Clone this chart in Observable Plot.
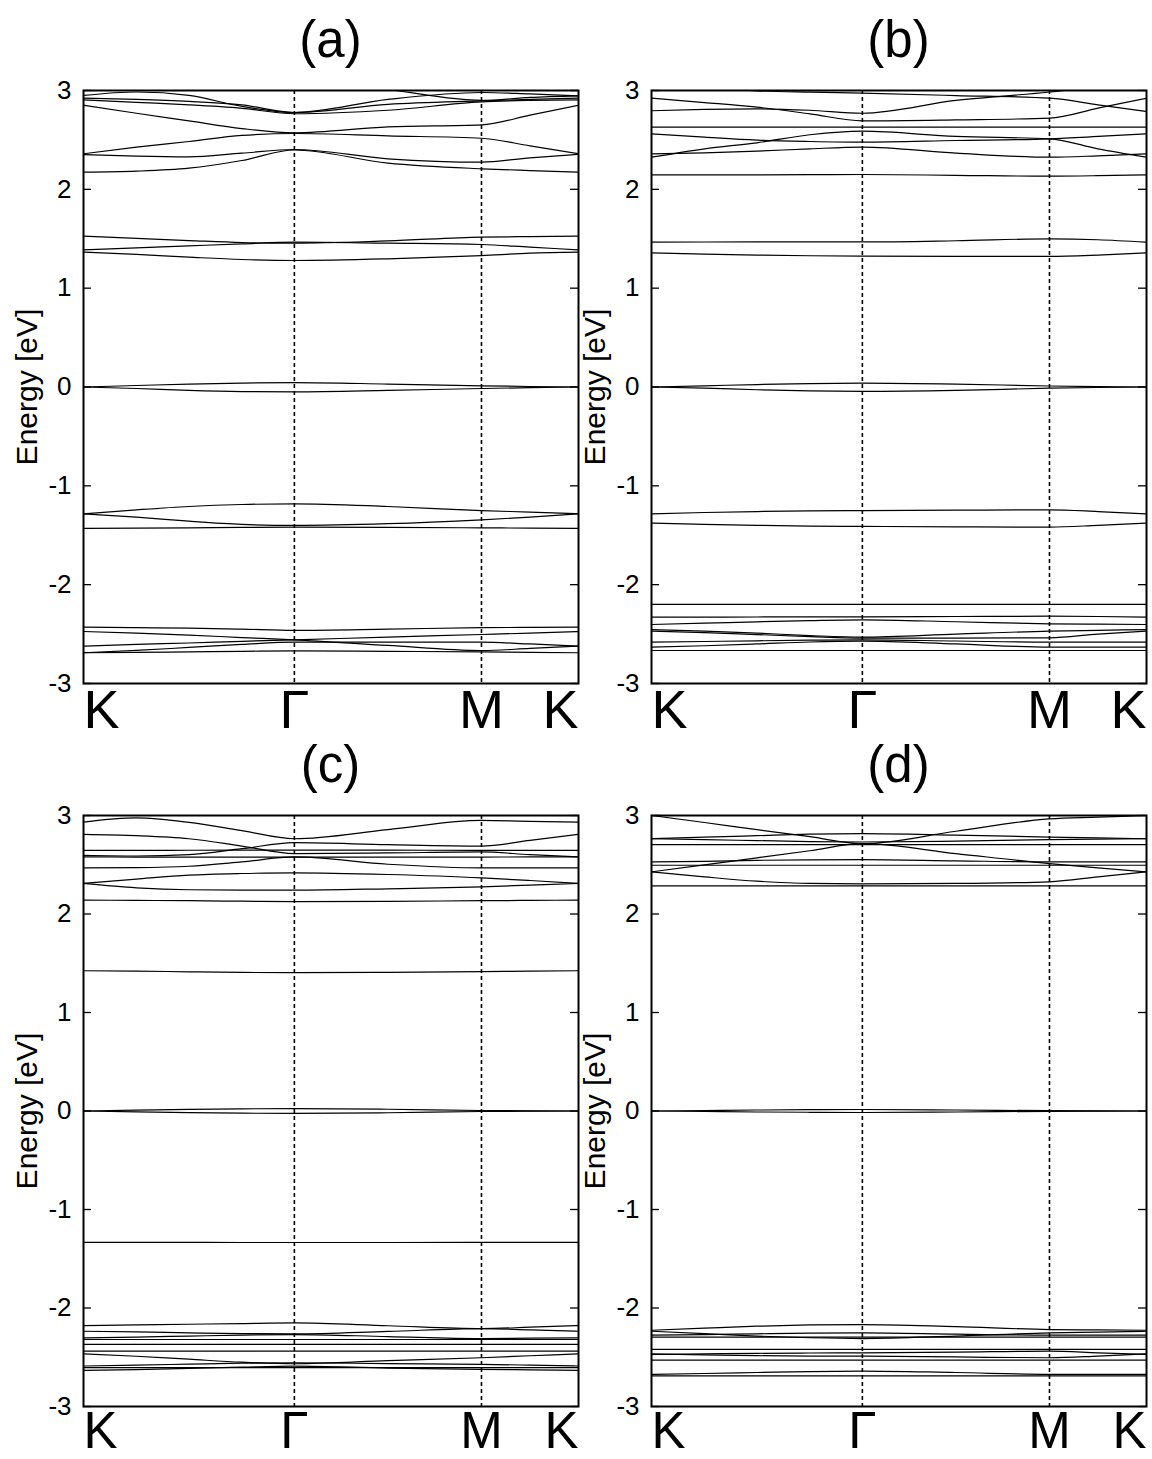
<!DOCTYPE html>
<html><head><meta charset="utf-8">
<script src="https://cdn.jsdelivr.net/npm/d3@7"></script>
<script src="https://cdn.jsdelivr.net/npm/@observablehq/plot@0.6"></script>
<style>
html,body{margin:0;padding:0;background:#fff;}
body{width:1152px;height:1459px;position:relative;overflow:hidden;font-family:"Liberation Sans",Arial,Helvetica,sans-serif;}
.panel{position:absolute;}
.title{position:absolute;font-size:51px;line-height:51px;text-align:center;color:#000;}
</style></head><body>
<script>
// k-path sample positions (fraction of path K-Γ-M-K)
const kGrid = [0, 0.107, 0.213, 0.32, 0.426, 0.615, 0.804, 0.902, 1];
const kNodes = [0, 0.426, 0.804, 1];
const kLabels = ["K", "Γ", "M", "K"];
const yTicks = [-3, -2, -1, 0, 1, 2, 3];
const panelTitles = ["(a)", "(b)", "(c)", "(d)"];

// band energies (eV) at kGrid
const bandsA = [
  [2.95, 2.985, 2.95, 2.84, 2.777, 2.91, 2.98, 2.965, 2.946],
  [2.922, 2.91, 2.89, 2.855, 2.777, 2.86, 2.895, 2.91, 2.922],
  [2.906, 2.88, 2.855, 2.82, 2.765, 2.80, 2.885, 2.90, 2.906],
  [3.3, 3.3, 3.3, 3.2, 3.12, 3.01, 2.90, 2.93, 2.946],
  [2.85, 2.77, 2.693, 2.615, 2.572, 2.632, 2.652, 2.75, 2.85],
  [2.36, 2.427, 2.484, 2.545, 2.565, 2.541, 2.517, 2.44, 2.36],
  [2.352, 2.335, 2.328, 2.366, 2.403, 2.309, 2.275, 2.319, 2.355],
  [2.174, 2.184, 2.214, 2.292, 2.398, 2.265, 2.208, 2.19, 2.174],
  [1.526, 1.503, 1.482, 1.462, 1.455, 1.479, 1.516, 1.522, 1.526],
  [1.388, 1.408, 1.428, 1.448, 1.465, 1.455, 1.442, 1.415, 1.388],
  [1.364, 1.341, 1.314, 1.29, 1.28, 1.297, 1.33, 1.354, 1.364],
  [0, 0.015, 0.03, 0.04, 0.045, 0.03, 0.012, 0.005, 0],
  [0, -0.015, -0.035, -0.047, -0.05, -0.035, -0.015, -0.007, 0],
  [-1.283, -1.243, -1.209, -1.189, -1.182, -1.209, -1.25, -1.266, -1.283],
  [-1.283, -1.317, -1.358, -1.39, -1.40, -1.383, -1.344, -1.317, -1.283],
  [-1.43, -1.428, -1.425, -1.42, -1.418, -1.42, -1.425, -1.428, -1.43],
  [-2.43, -2.435, -2.44, -2.45, -2.462, -2.45, -2.435, -2.432, -2.43],
  [-2.474, -2.49, -2.51, -2.535, -2.558, -2.615, -2.666, -2.645, -2.622],
  [-2.622, -2.605, -2.59, -2.573, -2.558, -2.53, -2.504, -2.49, -2.474],
  [-2.689, -2.665, -2.635, -2.605, -2.582, -2.582, -2.582, -2.60, -2.622],
  [-2.689, -2.685, -2.68, -2.675, -2.67, -2.675, -2.68, -2.685, -2.689]
];
const bandsB = [
  [3.06, 3.03, 2.997, 2.983, 2.973, 2.949, 2.922, 2.855, 2.787],
  [2.922, 2.878, 2.831, 2.764, 2.693, 2.703, 2.72, 2.821, 2.922],
  [2.795, 2.81, 2.815, 2.80, 2.77, 2.90, 2.985, 3.04, 3.08],
  [2.629, 2.629, 2.629, 2.629, 2.629, 2.629, 2.629, 2.629, 2.629],
  [2.562, 2.528, 2.498, 2.484, 2.477, 2.494, 2.511, 2.535, 2.562],
  [2.325, 2.41, 2.471, 2.552, 2.588, 2.535, 2.511, 2.41, 2.325],
  [2.359, 2.369, 2.386, 2.41, 2.427, 2.366, 2.325, 2.339, 2.359],
  [2.147, 2.147, 2.147, 2.148, 2.15, 2.142, 2.133, 2.138, 2.147],
  [1.465, 1.467, 1.468, 1.468, 1.468, 1.48, 1.499, 1.49, 1.465],
  [1.357, 1.345, 1.335, 1.328, 1.324, 1.322, 1.322, 1.335, 1.357],
  [0, 0.012, 0.025, 0.035, 0.04, 0.03, 0.01, 0.004, 0],
  [0, -0.012, -0.028, -0.04, -0.045, -0.035, -0.012, -0.005, 0],
  [-1.283, -1.27, -1.26, -1.253, -1.25, -1.246, -1.243, -1.26, -1.283],
  [-1.378, -1.39, -1.40, -1.407, -1.41, -1.415, -1.418, -1.40, -1.378],
  [-2.20, -2.20, -2.20, -2.20, -2.20, -2.20, -2.20, -2.20, -2.20],
  [-2.329, -2.328, -2.327, -2.325, -2.325, -2.322, -2.319, -2.322, -2.329],
  [-2.403, -2.39, -2.376, -2.364, -2.356, -2.375, -2.396, -2.40, -2.403],
  [-2.454, -2.47, -2.49, -2.515, -2.531, -2.50, -2.47, -2.462, -2.454],
  [-2.47, -2.485, -2.505, -2.525, -2.54, -2.54, -2.538, -2.50, -2.47],
  [-2.582, -2.575, -2.568, -2.562, -2.558, -2.57, -2.582, -2.582, -2.582],
  [-2.632, -2.618, -2.60, -2.58, -2.572, -2.60, -2.632, -2.632, -2.632],
  [-2.666, -2.666, -2.666, -2.666, -2.666, -2.666, -2.666, -2.666, -2.666]
];
const bandsC = [
  [2.933, 2.975, 2.93, 2.846, 2.764, 2.857, 2.95, 2.94, 2.933],
  [2.808, 2.795, 2.764, 2.69, 2.613, 2.62, 2.63, 2.603, 2.579],
  [2.596, 2.589, 2.603, 2.663, 2.724, 2.704, 2.69, 2.747, 2.808],
  [2.646, 2.646, 2.647, 2.648, 2.649, 2.648, 2.646, 2.646, 2.646],
  [2.579, 2.578, 2.577, 2.577, 2.577, 2.577, 2.578, 2.579, 2.579],
  [2.468, 2.471, 2.485, 2.529, 2.579, 2.505, 2.468, 2.468, 2.468],
  [2.31, 2.354, 2.394, 2.411, 2.418, 2.401, 2.367, 2.34, 2.31],
  [2.31, 2.266, 2.246, 2.242, 2.242, 2.256, 2.276, 2.293, 2.31],
  [2.141, 2.138, 2.135, 2.13, 2.125, 2.128, 2.135, 2.138, 2.141],
  [1.424, 1.42, 1.413, 1.407, 1.404, 1.408, 1.415, 1.42, 1.424],
  [0, 0.008, 0.016, 0.022, 0.025, 0.018, 0.005, 0.002, 0],
  [0, -0.008, -0.016, -0.022, -0.025, -0.018, -0.005, -0.002, 0],
  [-1.333, -1.333, -1.334, -1.335, -1.335, -1.335, -1.334, -1.333, -1.333],
  [-2.179, -2.172, -2.165, -2.158, -2.152, -2.18, -2.209, -2.195, -2.179],
  [-2.236, -2.243, -2.252, -2.26, -2.263, -2.238, -2.209, -2.222, -2.236],
  [-2.303, -2.295, -2.285, -2.275, -2.27, -2.29, -2.31, -2.306, -2.303],
  [-2.32, -2.32, -2.32, -2.32, -2.32, -2.32, -2.32, -2.32, -2.32],
  [-2.37, -2.37, -2.37, -2.37, -2.37, -2.37, -2.37, -2.37, -2.37],
  [-2.438, -2.438, -2.438, -2.438, -2.438, -2.438, -2.438, -2.438, -2.438],
  [-2.465, -2.49, -2.52, -2.55, -2.566, -2.535, -2.505, -2.485, -2.465],
  [-2.589, -2.58, -2.57, -2.56, -2.556, -2.565, -2.572, -2.58, -2.589],
  [-2.606, -2.606, -2.606, -2.606, -2.606, -2.606, -2.606, -2.606, -2.606],
  [-2.633, -2.625, -2.612, -2.60, -2.59, -2.61, -2.623, -2.628, -2.633]
];
const bandsD = [
  [3.0, 2.929, 2.856, 2.785, 2.714, 2.84, 2.966, 2.983, 3.0],
  [2.428, 2.499, 2.57, 2.642, 2.714, 2.613, 2.512, 2.468, 2.428],
  [2.764, 2.78, 2.795, 2.81, 2.815, 2.80, 2.781, 2.772, 2.764],
  [2.764, 2.755, 2.745, 2.735, 2.731, 2.74, 2.755, 2.76, 2.764],
  [2.704, 2.704, 2.704, 2.704, 2.704, 2.704, 2.704, 2.704, 2.704],
  [2.529, 2.535, 2.545, 2.55, 2.552, 2.54, 2.529, 2.529, 2.529],
  [2.495, 2.495, 2.495, 2.495, 2.495, 2.495, 2.495, 2.495, 2.495],
  [2.428, 2.377, 2.333, 2.31, 2.306, 2.31, 2.327, 2.377, 2.428],
  [2.286, 2.286, 2.286, 2.286, 2.286, 2.286, 2.286, 2.286, 2.286],
  [0, 0.005, 0.01, 0.013, 0.015, 0.01, 0.003, 0.001, 0],
  [0, -0.005, -0.01, -0.013, -0.015, -0.01, -0.003, -0.001, 0],
  [-2.226, -2.205, -2.185, -2.172, -2.168, -2.19, -2.219, -2.223, -2.226],
  [-2.236, -2.26, -2.285, -2.302, -2.31, -2.285, -2.253, -2.245, -2.236],
  [-2.276, -2.27, -2.262, -2.255, -2.253, -2.265, -2.276, -2.276, -2.276],
  [-2.296, -2.296, -2.296, -2.296, -2.296, -2.296, -2.296, -2.296, -2.296],
  [-2.421, -2.421, -2.421, -2.421, -2.421, -2.421, -2.421, -2.421, -2.421],
  [-2.465, -2.475, -2.484, -2.488, -2.489, -2.497, -2.505, -2.488, -2.465],
  [-2.472, -2.466, -2.46, -2.457, -2.455, -2.448, -2.438, -2.455, -2.472],
  [-2.529, -2.529, -2.529, -2.529, -2.529, -2.529, -2.529, -2.529, -2.529],
  [-2.673, -2.665, -2.655, -2.645, -2.64, -2.655, -2.673, -2.673, -2.673],
  [-2.69, -2.69, -2.69, -2.69, -2.69, -2.69, -2.69, -2.69, -2.69]
];

const allBands = [bandsA, bandsB, bandsC, bandsD];
// layout: top-left corner of each panel svg, its height, bottom margin, k-label size
const places = [
  {left: 0, top: 0, h: 745, mb: 62, fs: 54, dy: 6},
  {left: 568, top: 0, h: 745, mb: 62, fs: 54, dy: 6},
  {left: 0, top: 725, h: 734, mb: 53, fs: 51, dy: 5},
  {left: 568, top: 725, h: 734, mb: 53, fs: 51, dy: 5}
];
const W = 580, ML = 83, MR = 2, MT = 90;
const FW = W - ML - MR;
const FONT = "'Liberation Sans', Arial, Helvetica, sans-serif";

allBands.forEach((bands, p) => {
  const P = places[p];
  const rows = bands.flatMap((vals, b) => vals.map((E, i) => ({band: b, k: kGrid[i], E})));
  const svg = Plot.plot({
    width: W, height: P.h,
    marginLeft: ML, marginRight: MR, marginTop: MT, marginBottom: P.mb,
    style: {fontFamily: FONT, background: "transparent", overflow: "visible"},
    x: {domain: [0, 1], axis: null},
    y: {domain: [-3, 3], axis: null},
    marks: [
      Plot.ruleX([kNodes[1], kNodes[2]], {x: d => d, stroke: "black", strokeWidth: 1.6, strokeDasharray: "4,3"}),
      Plot.line(rows, {x: "k", y: "E", z: "band", curve: "monotone-x", stroke: "black", strokeWidth: 1.2, clip: true}),
      Plot.tickY(yTicks, {y: d => d, stroke: "black", strokeWidth: 1.3, insetRight: FW - 8}),
      Plot.tickY(yTicks, {y: d => d, stroke: "black", strokeWidth: 1.3, insetLeft: FW - 8}),
      Plot.axisY(yTicks, {y: d => d, tickSize: 0, tickPadding: 12, fontSize: 26, tickFormat: d => String(d), label: null}),
      Plot.text(["Energy [eV]"], {frameAnchor: "left", textAnchor: "middle", lineAnchor: "middle", dx: -56, rotate: -90, fontSize: 30, text: d => d}),
      Plot.text(kNodes.slice(0, 1), {x: d => d, text: (d) => kLabels[0], frameAnchor: "bottom", lineAnchor: "top", textAnchor: "start", dy: P.dy, fontSize: P.fs}),
      Plot.text(kNodes.slice(1, 3), {x: d => d, text: (d, i) => kLabels[i + 1], frameAnchor: "bottom", lineAnchor: "top", textAnchor: "middle", dy: P.dy, fontSize: P.fs}),
      Plot.text(kNodes.slice(3), {x: d => d, text: (d) => kLabels[3], frameAnchor: "bottom", lineAnchor: "top", textAnchor: "end", dy: P.dy, fontSize: P.fs}),
      Plot.frame({stroke: "black", strokeWidth: 2})
    ]
  });
  svg.classList.add("panel");
  svg.style.left = P.left + "px";
  svg.style.top = P.top + "px";
  svg.style.position = "absolute";
  svg.style.maxWidth = "none";
  document.body.appendChild(svg);
  const t = document.createElement("div");
  t.className = "title";
  t.textContent = panelTitles[p];
  t.style.left = (P.left + ML) + "px";
  t.style.width = FW + "px";
  t.style.top = (P.top + 14) + "px";
  document.body.appendChild(t);
});
</script>
</body></html>
